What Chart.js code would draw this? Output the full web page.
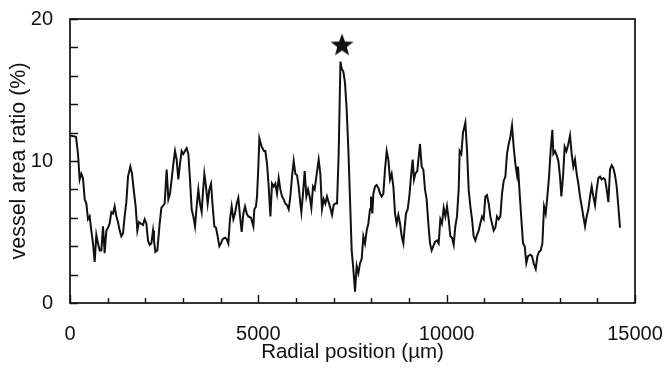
<!DOCTYPE html>
<html>
<head>
<meta charset="utf-8">
<script src="https://cdn.jsdelivr.net/npm/chart.js@4/dist/chart.umd.min.js"></script>
<style>
html,body{margin:0;padding:0;background:#fff;}
#c{display:block;}
</style>
</head>
<body>
<canvas id="c" width="666" height="373"></canvas>
<script>
// ---- data ----
const positions = [0,160,212,257,301,345,390,434,478,522,566,611,655,699,743,788,832,876,920,965,1009,1053,1097,1142,1186,1230,1274,1319,1363,1407,1451,1496,1540,1602,1646,1690,1743,1788,1832,1876,1938,1983,2027,2071,2115,2160,2204,2230,2266,2319,2381,2425,2513,2566,2611,2655,2699,2744,2788,2832,2876,2920,2965,3009,3053,3097,3142,3186,3230,3274,3319,3363,3407,3451,3496,3522,3567,3611,3655,3699,3744,3788,3832,3876,3920,3965,4009,4053,4115,4160,4204,4248,4292,4337,4381,4425,4469,4514,4558,4602,4647,4691,4735,4806,4868,4894,4938,4965,5000,5027,5089,5151,5186,5231,5275,5320,5363,5408,5452,5496,5540,5585,5629,5673,5717,5762,5806,5850,5894,5939,5983,6027,6071,6116,6142,6186,6231,6275,6319,6363,6408,6452,6496,6540,6602,6646,6690,6735,6779,6823,6867,6911,6956,7000,7044,7089,7133,7180,7213,7257,7301,7346,7390,7434,7478,7522,7567,7611,7655,7700,7744,7788,7832,7877,7921,7965,7991,8027,8054,8098,8142,8186,8231,8275,8319,8363,8408,8452,8496,8540,8585,8629,8673,8717,8762,8806,8850,8877,8920,8965,9009,9053,9097,9133,9168,9221,9257,9292,9336,9381,9425,9469,9513,9558,9602,9646,9690,9744,9788,9832,9876,9921,9965,10009,10053,10097,10142,10186,10230,10274,10319,10345,10389,10434,10496,10540,10584,10629,10673,10717,10762,10806,10850,10894,10939,10983,11027,11071,11116,11160,11204,11248,11293,11337,11381,11425,11470,11514,11558,11602,11647,11691,11735,11779,11824,11868,11894,11938,11983,12027,12071,12115,12160,12221,12266,12310,12364,12408,12452,12496,12541,12585,12629,12673,12718,12762,12806,12832,12877,12921,12965,13009,13045,13089,13133,13178,13222,13275,13319,13363,13407,13452,13496,13540,13585,13629,13673,13717,13762,13806,13850,13894,13939,13983,14027,14071,14116,14160,14204,14248,14293,14337,14381,14425,14470,14514,14558,14602];
const ratios = [11.8,11.7,10.5,8.7,9.1,8.8,7.3,7.0,5.9,6.1,5.1,4.2,2.9,4.8,4.2,3.7,3.7,5.4,3.5,5.1,5.3,5.6,6.4,6.3,6.8,6.1,5.7,5.1,4.7,4.9,6.1,7.1,8.9,9.6,9.1,8.0,6.8,5.1,5.7,5.6,5.5,5.9,5.6,4.4,4.1,4.2,5.1,4.4,3.6,3.7,5.6,6.7,7.0,9.4,7.3,7.7,8.7,9.8,10.7,10.1,8.7,9.8,10.7,10.5,10.7,10.9,10.5,8.7,6.6,6.1,5.4,6.8,8.0,7.0,6.4,7.5,9.1,8.2,7.0,8.0,8.4,6.8,5.4,5.3,4.7,4.0,4.2,4.5,4.6,4.5,4.2,5.9,6.8,5.9,6.3,7.0,7.4,6.1,5.0,6.3,6.8,6.3,6.1,6.0,5.4,6.6,6.8,7.5,9.6,11.6,11.0,10.7,10.7,9.8,8.2,6.1,8.4,8.2,8.4,7.7,8.8,8.0,7.5,7.3,7.0,6.9,6.6,7.5,8.9,10.0,9.1,9.0,8.2,7.0,6.4,7.7,9.3,7.5,8.0,7.5,6.7,8.2,8.0,8.9,10.1,9.1,6.6,7.3,7.0,7.5,7.1,6.7,6.2,6.9,7.0,7.0,10.5,17.0,16.5,16.3,15.5,13.6,10.8,7.3,3.7,2.4,0.8,2.6,2.1,2.8,3.1,4.7,4.2,5.1,5.6,6.6,7.5,6.3,7.7,8.2,8.3,8.1,7.7,7.5,7.7,9.4,10.7,10.1,8.7,9.1,8.2,6.3,5.6,6.2,5.6,4.7,4.2,5.1,6.3,6.6,7.5,8.9,10.1,8.7,9.1,9.3,10.3,11.2,9.6,9.4,8.0,7.3,5.6,4.2,3.7,4.0,4.3,4.4,4.2,5.9,5.6,6.7,6.1,6.8,5.9,4.7,4.6,4.1,5.4,6.1,8.0,10.7,10.5,12.0,12.7,10.8,8.0,6.8,5.9,4.7,4.4,4.8,5.1,5.6,6.1,5.9,7.5,7.6,7.0,6.1,5.6,5.1,5.3,6.1,5.9,6.1,7.7,8.6,8.9,10.5,11.2,11.7,12.5,11.0,9.8,9.0,9.6,7.7,5.9,4.2,4.0,2.8,3.3,3.4,3.3,2.8,2.4,3.3,3.6,3.7,4.2,6.8,6.3,7.5,8.9,10.8,12.2,10.5,10.7,10.4,10.0,8.9,7.5,8.9,11.0,10.7,11.1,11.8,10.5,9.6,10.1,9.1,8.4,7.5,6.8,6.1,5.4,6.1,6.6,7.5,8.2,7.5,6.9,8.0,8.8,8.9,8.7,8.8,8.7,8.0,7.1,9.4,9.7,9.5,9.0,8.2,6.8,5.3];
const starPosition = [7222];
const starRatio = [18.2];
const xTickValues = [0, 5000, 10000, 15000];
const yTickValues = [0, 10, 20];
const xMinorStep = 1000;
const yMinorStep = 2;
const xTitle = 'Radial position (µm)';
const yTitle = 'vessel area ratio (%)';

// filled five-pointed star used as point style
function makeStar(size) {
  const cv = document.createElement('canvas');
  cv.width = size; cv.height = size;
  const g = cv.getContext('2d');
  const cx = size / 2, cy = size / 2 + 1, R = size / 2, r = R * 0.42;
  g.beginPath();
  for (let i = 0; i < 10; i++) {
    const rad = i % 2 === 0 ? R : r;
    const a = -Math.PI / 2 + i * Math.PI / 5;
    const px = cx + rad * Math.cos(a), py = cy + rad * Math.sin(a);
    if (i === 0) g.moveTo(px, py); else g.lineTo(px, py);
  }
  g.closePath();
  g.fillStyle = '#111';
  g.fill();
  return cv;
}

const frameTicks = {
  id: 'frameTicks',
  afterDatasetsDraw(chart) {
    const {ctx, chartArea: a, scales: {x, y}} = chart;
    ctx.save();
    ctx.strokeStyle = '#111';
    ctx.lineWidth = 1.7;
    ctx.strokeRect(a.left, a.top, a.right - a.left, a.bottom - a.top);
    ctx.lineWidth = 1.4;
    ctx.beginPath();
    for (let v = x.min; v <= x.max; v += xMinorStep) {
      const px = Math.round(x.getPixelForValue(v)) + 0.5;
      const len = xTickValues.includes(v) ? 8 : 5;
      ctx.moveTo(px, a.bottom); ctx.lineTo(px, a.bottom - len);
    }
    for (let v = y.min; v <= y.max; v += yMinorStep) {
      const py = Math.round(y.getPixelForValue(v)) + 0.5;
      ctx.moveTo(a.left, py); ctx.lineTo(a.left + 8, py);
    }
    ctx.stroke();
    ctx.restore();
  }
};

const family = '"Liberation Sans", Arial, Helvetica, sans-serif';
const tickFont = {family: family, size: 20};
const hiddenGrid = (len) => ({display: true, drawOnChartArea: false, drawTicks: true, tickLength: len, color: 'rgba(0,0,0,0)'});

new Chart(document.getElementById('c'), {
  type: 'scatter',
  data: {
    datasets: [
      {
        data: positions.map((p, i) => ({x: p, y: ratios[i]})),
        showLine: true,
        borderColor: '#111',
        borderWidth: 2,
        pointRadius: 0,
        tension: 0,
        fill: false
      },
      {
        data: starPosition.map((p, i) => ({x: p, y: starRatio[i]})),
        showLine: false,
        pointStyle: makeStar(24),
        pointRadius: 12
      }
    ]
  },
  plugins: [frameTicks],
  options: {
    responsive: false,
    animation: false,
    devicePixelRatio: 1,
    layout: {autoPadding: false, padding: {top: 19, right: 31, left: 0, bottom: 0}},
    plugins: {legend: {display: false}, tooltip: {enabled: false}},
    scales: {
      x: {
        type: 'linear',
        min: 0, max: 15000,
        afterBuildTicks: s => { s.ticks = xTickValues.map(v => ({value: v})); },
        afterFit: s => { s.height = 70; },
        grid: hiddenGrid(19),
        border: {display: false},
        ticks: {color: '#111', font: tickFont, padding: 0, maxRotation: 0, autoSkip: false,
                callback: v => String(v)},
        title: {display: true, text: xTitle, color: '#111', font: {family: family, size: 20.5}, padding: {top: 0, bottom: 8}}
      },
      y: {
        type: 'linear',
        min: 0, max: 20,
        afterBuildTicks: s => { s.ticks = yTickValues.map(v => ({value: v})); },
        afterFit: s => { s.width = 70; },
        grid: hiddenGrid(17),
        border: {display: false},
        ticks: {color: '#111', font: tickFont, padding: 0, callback: v => String(v)},
        title: {display: true, text: yTitle, color: '#111', font: {family: family, size: 21.5}, padding: {top: 6, bottom: 0}}
      }
    }
  }
});
</script>
</body>
</html>
